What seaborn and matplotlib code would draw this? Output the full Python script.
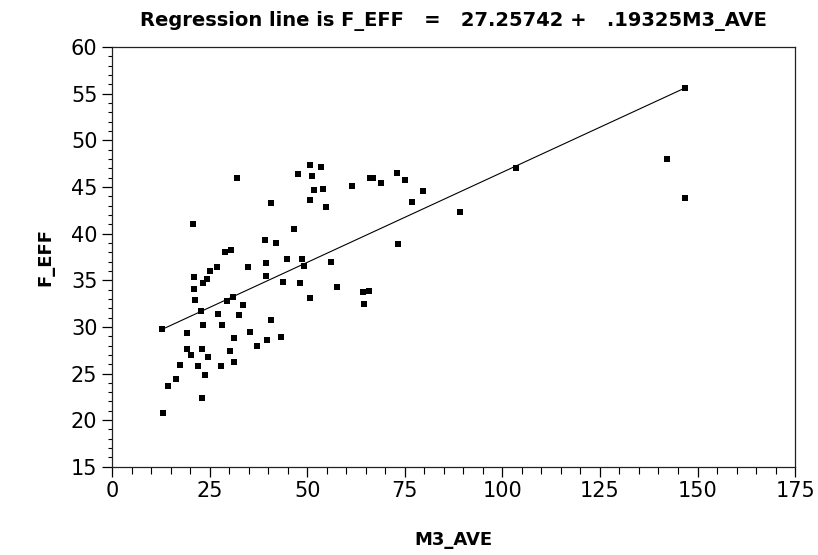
import numpy as np
import pandas as pd
import matplotlib
matplotlib.use("Agg")
import matplotlib.pyplot as plt
from matplotlib.ticker import MultipleLocator
import seaborn as sns

# ── Data ──────────────────────────────────────────────────────────────────────
m3_ave = [12.9, 13.0, 14.4, 16.3, 17.5, 19.1, 19.1, 20.2, 20.8, 20.9,
          20.9, 21.3, 22.0, 22.7, 23.0, 23.0, 23.4, 24.4, 23.4, 23.7,
          24.5, 25.2, 26.8, 27.2, 27.8, 28.1, 29.0, 29.4, 30.2, 30.6,
          30.9, 31.2, 31.3, 32.1, 32.6, 33.6, 34.8, 35.4, 37.1, 39.1,
          39.4, 39.5, 39.6, 40.7, 40.7, 42.1, 43.2, 43.7, 44.8, 46.6,
          47.7, 48.2, 48.6, 49.2, 50.6, 51.3, 51.8, 50.6, 50.7, 53.5,
          54.1, 54.7, 56.0, 57.7, 61.6, 64.4, 64.5, 65.8, 66.1, 66.9,
          69.0, 72.9, 73.3, 75.0, 76.9, 79.6, 89.2, 103.5, 142.1, 146.8,
          146.9]
f_eff = [29.8, 20.8, 23.7, 24.4, 25.9, 29.3, 27.6, 27.0, 41.0, 35.4,
         34.1, 32.9, 25.8, 31.7, 27.6, 22.4, 34.7, 35.1, 30.2, 24.8,
         26.8, 36.0, 36.4, 31.4, 25.8, 30.2, 38.0, 32.8, 27.4, 38.3,
         33.2, 26.2, 28.8, 46.0, 31.3, 32.4, 36.4, 29.4, 27.9, 39.3,
         36.9, 35.5, 28.6, 43.3, 30.7, 39.0, 28.9, 34.8, 37.3, 40.5,
         46.4, 34.7, 37.3, 36.5, 47.4, 46.2, 44.7, 43.6, 33.1, 47.2,
         44.8, 42.9, 37.0, 34.3, 45.1, 33.7, 32.5, 33.9, 46.0, 46.0,
         45.4, 46.5, 38.9, 45.8, 43.4, 44.6, 42.3, 47.0, 48.0, 55.6,
         43.8]
intercept = 27.25742
slope = 0.19325

df = pd.DataFrame({"M3_AVE": m3_ave, "F_EFF": f_eff})

# ── Theme ─────────────────────────────────────────────────────────────────────
sns.set_style("ticks")
plt.rcParams.update({
    "font.family": ["DejaVu Sans"],
    "text.color": "black",
    "axes.labelcolor": "black",
    "xtick.color": "black",
    "ytick.color": "black",
})

fig = plt.figure(figsize=(8.18, 5.55), dpi=100, facecolor="white")
ax = fig.add_axes([0.137, 0.159, 0.835, 0.756])

sns.scatterplot(data=df, x="M3_AVE", y="F_EFF", marker="s", s=20,
                color="black", edgecolor="black", linewidth=0, ax=ax)

# regression line over the data range
x_line = np.array([df["M3_AVE"].min(), df["M3_AVE"].max()])
ax.plot(x_line, intercept + slope * x_line, color="black", linewidth=0.8)

ax.set_xlim(0, 175)
ax.set_ylim(15, 60)
ax.xaxis.set_major_locator(MultipleLocator(25))
ax.xaxis.set_minor_locator(MultipleLocator(5))
ax.yaxis.set_major_locator(MultipleLocator(5))
ax.yaxis.set_minor_locator(MultipleLocator(1))
ax.tick_params(axis="both", which="major", labelsize=15, length=7,
               width=0.9, color="black", direction="out")
ax.tick_params(axis="x", which="minor", length=5, width=0.8, direction="out")
ax.tick_params(axis="y", which="minor", length=3, width=0.8, direction="out")
for sp in ax.spines.values():
    sp.set_visible(True)
    sp.set_color("#222222")
    sp.set_linewidth(0.9)

ax.set_xlabel("M3_AVE", fontsize=13, fontweight="bold", labelpad=21)
ax.set_ylabel("F_EFF", fontsize=13, fontweight="bold", labelpad=12)
ax.set_title("Regression line is F_EFF   =   27.25742 +   .19325M3_AVE",
             fontsize=14, fontweight="bold", pad=15)

fig.savefig("out.png", dpi=100, facecolor="white")
